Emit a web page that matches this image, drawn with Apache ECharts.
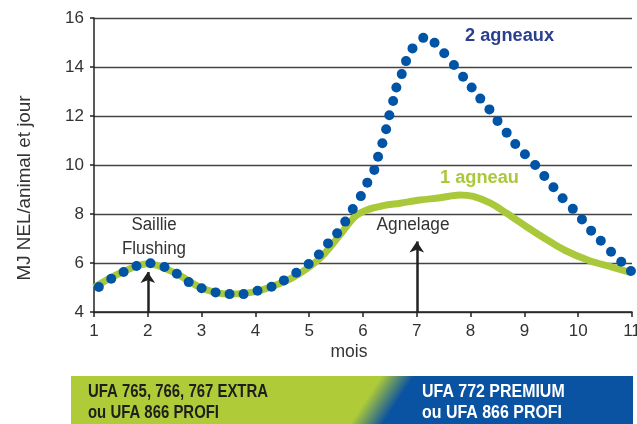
<!DOCTYPE html>
<html><head><meta charset="utf-8">
<script src="https://cdn.jsdelivr.net/npm/echarts@6/dist/echarts.min.js"></script>
<style>html,body{margin:0;padding:0;background:#fff}#c{width:637px;height:424px}</style>
</head><body><div id="c"></div>
<script>
const FONT = "'Liberation Sans', Arial, sans-serif";
const xTicks = [1,2,3,4,5,6,7,8,9,10,11];
const yTicks = [4,6,8,10,12,14,16];
// 1 agneau (solid green curve)
const oneLamb = [[1,5.0],[1.5,5.6],[2,5.97],[2.5,5.6],[3,4.98],[3.5,4.73],[4,4.83],[4.5,5.2],[4.83,5.58],[5.2,6.19],[5.57,7.14],[5.85,7.89],[6.07,8.16],[6.38,8.34],[6.69,8.44],[7.06,8.57],[7.43,8.66],[7.8,8.78],[8.05,8.72],[8.36,8.45],[8.67,8.03],[9.04,7.48],[9.41,6.96],[9.75,6.52],[10.2,6.1],[10.6,5.85],[11,5.6]];
// 2 agneaux (dotted blue curve, one entry per dot)
const twoLambs = [[1.09,5.02],[1.32,5.36],[1.55,5.63],[1.79,5.88],[2.05,5.99],[2.31,5.84],[2.54,5.56],[2.76,5.22],[3.0,4.97],[3.26,4.8],[3.52,4.73],[3.78,4.73],[4.04,4.87],[4.3,5.03],[4.53,5.29],[4.76,5.6],[4.99,5.96],[5.18,6.35],[5.35,6.8],[5.52,7.21],[5.67,7.69],[5.81,8.2],[5.96,8.73],[6.08,9.28],[6.21,9.8],[6.28,10.34],[6.36,10.89],[6.43,11.46],[6.49,12.03],[6.56,12.61],[6.62,13.16],[6.72,13.71],[6.8,14.24],[6.92,14.76],[7.12,15.19],[7.33,14.99],[7.51,14.56],[7.69,14.08],[7.86,13.6],[8.02,13.16],[8.18,12.71],[8.35,12.27],[8.5,11.8],[8.67,11.32],[8.83,10.86],[9.01,10.44],[9.2,10.0],[9.37,9.55],[9.54,9.09],[9.71,8.64],[9.9,8.21],[10.07,7.78],[10.24,7.32],[10.42,6.91],[10.61,6.46],[10.8,6.05],[10.98,5.67]];
const arrows = [[2,4,5.63],[7,4,6.88]];
const GREEN = '#aac93a', BLUE = '#0054a6', BANNER_GREEN = '#afcb37', BANNER_BLUE = '#0a52a2';

const mctx = document.createElement('canvas').getContext('2d');
function fit(text, size, weight, target){
  mctx.font = (weight||'normal') + ' ' + size + 'px ' + FONT;
  return target / mctx.measureText(text).width;
}
function label(text, x, y, size, weight, color, target, align, extra){
  const s = fit(text.split('\n').reduce((a,b)=>a.length>b.length?a:b), size, weight, target);
  return Object.assign({type:'text', x:x, y:y, scaleX:s, z:5,
    style:{text:text, fontFamily:FONT, fontSize:size, fontWeight:weight||'normal', fill:color,
      align:align||'center', verticalAlign:'middle', lineHeight:(extra&&extra.lh)||undefined}}, extra&&extra.el||{});
}

const chart = echarts.init(document.getElementById('c'), null, {renderer:'canvas'});
chart.setOption({
  animation:false,
  grid:{left:94, top:18, right:5, bottom:112, containLabel:false, outerBoundsMode:'none'},
  xAxis:{type:'value', min:1, max:11, interval:1,
    axisLine:{lineStyle:{color:'#222', width:1.5}},
    axisTick:{show:true, length:5, lineStyle:{color:'#222', width:1.5}},
    axisLabel:{margin:11, fontFamily:FONT, fontSize:17, color:'#333', hideOverlap:false, formatter:v=>xTicks.includes(v)?String(v):''},
    splitLine:{show:false}},
  yAxis:{type:'value', min:4, max:16, interval:2,
    axisLine:{show:true, lineStyle:{color:'#222', width:1.5}},
    axisTick:{show:true, length:4, lineStyle:{color:'#222', width:1.5}},
    axisLabel:{margin:10, fontFamily:FONT, fontSize:17, color:'#333', formatter:v=>yTicks.includes(v)?String(v):''},
    splitLine:{show:true, lineStyle:{color:'#444', width:1.3}}},
  series:[
    {name:'1 agneau', type:'line', data:oneLamb, smooth:0.35, showSymbol:false,
     lineStyle:{color:GREEN, width:7}, z:2,
     markLine:{silent:true, symbol:['none','arrow'], symbolSize:[11,11], label:{show:false},
       lineStyle:{color:'#222', width:2.5, type:'solid'},
       data: arrows.map(a=>[{coord:[a[0],a[1]]},{coord:[a[0],a[2]]}])}},
    {name:'2 agneaux', type:'scatter', data:twoLambs, symbol:'circle', symbolSize:10,
     itemStyle:{color:BLUE, opacity:1}, z:3}
  ],
  graphic:[
    label('MJ NEL/animal et jour', 25, 188, 19, 'normal', '#333', 185, 'center', {el:{rotation:Math.PI/2}}),
    label('Saillie\nFlushing', 154, 237, 18, 'normal', '#333', 64, 'center', {lh:24}),
    label('Agnelage', 413, 225, 18, 'normal', '#333', 73),
    label('2 agneaux', 509.5, 36, 18, 'bold', '#2b3f8f', 89),
    label('1 agneau', 479.5, 178, 18, 'bold', GREEN, 79),
    label('mois', 349, 352, 18, 'normal', '#333', 37),
    {type:'rect', shape:{x:71, y:376, width:562, height:60}, z:0,
     style:{fill:new echarts.graphic.LinearGradient(371,392,394,407,[{offset:0,color:BANNER_GREEN},{offset:1,color:BANNER_BLUE}],true)}},
    label('UFA 765, 766, 767 EXTRA\nou UFA 866 PROFI', 88, 402.5, 19, 'bold', '#1e1e1e', 180, 'left', {lh:21}),
    label('UFA 772 PREMIUM\nou UFA 866 PROFI', 422, 402.5, 19, 'bold', '#ffffff', 140, 'left', {lh:21})
  ]
});
</script></body></html>
